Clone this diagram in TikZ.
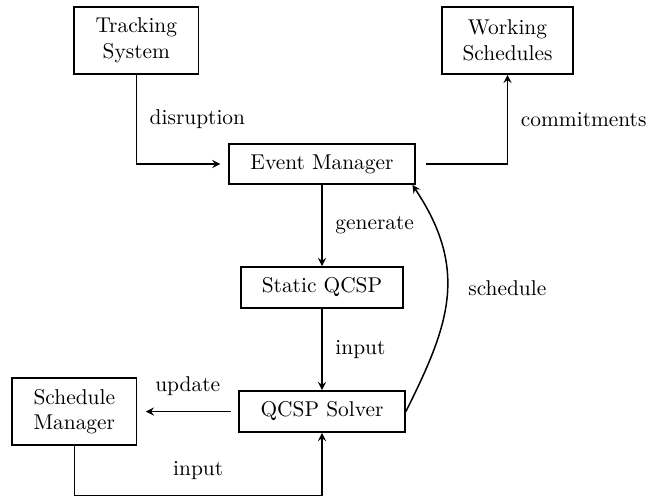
\documentclass[tikz,border=0pt]{standalone}
\begin{document}
\begin{tikzpicture}[x=0.4673pt,y=-0.4673pt,
  box/.style={draw, line width=0.8pt, align=center, inner sep=0pt},
  arr/.style={-stealth, line width=0.7pt},
  vlbl/.style={right=2.6pt},
  hlbl/.style={above=3.8pt}]
\useasboundingbox (0,0) rectangle (647,496);
\node[box, minimum width=58.2pt, minimum height=31.3pt] (ts) at (136.3,40.5) {Tracking\\System};
\node[box, minimum width=61.2pt, minimum height=31.3pt] (ws) at (507.5,40.5) {Working\\Schedules};
\node[box, minimum width=86.8pt, minimum height=18.7pt] (em) at (322,164) {Event Manager};
\node[box, minimum width=75.7pt, minimum height=19.2pt] (sq) at (322,287.5) {Static QCSP};
\node[box, minimum width=77.6pt, minimum height=19.2pt] (qs) at (322,411.5) {QCSP Solver};
\node[box, minimum width=58pt, minimum height=31.3pt] (sm) at (74.3,411.5) {Schedule\\Manager};

\draw[arr, shorten >=3.7pt] (ts.south) |- (em.west) node[pos=0.25, vlbl] {disruption};
\draw[arr, shorten <=4.6pt] (em.east) -| (ws.south) node[pos=0.75, vlbl] {commitments};
\draw[arr] (em.south) -- (sq.north) node[midway, vlbl] {generate};
\draw[arr] (sq.south) -- (qs.north) node[midway, vlbl] {input};
\draw[arr, shorten <=3.5pt, shorten >=4pt] (qs.west) -- (sm.east) node[midway, hlbl] {update};
\draw[arr] (sm.south) -- ++(0,49.5) -| (qs.south) node[pos=0.25, hlbl] {input};
\draw[arr] (qs.east) .. controls (448,327) and (470,271) .. (em.-13)
  node[pos=0.5, right=6.5pt, yshift=4.9pt] {schedule};
\end{tikzpicture}
\end{document}
